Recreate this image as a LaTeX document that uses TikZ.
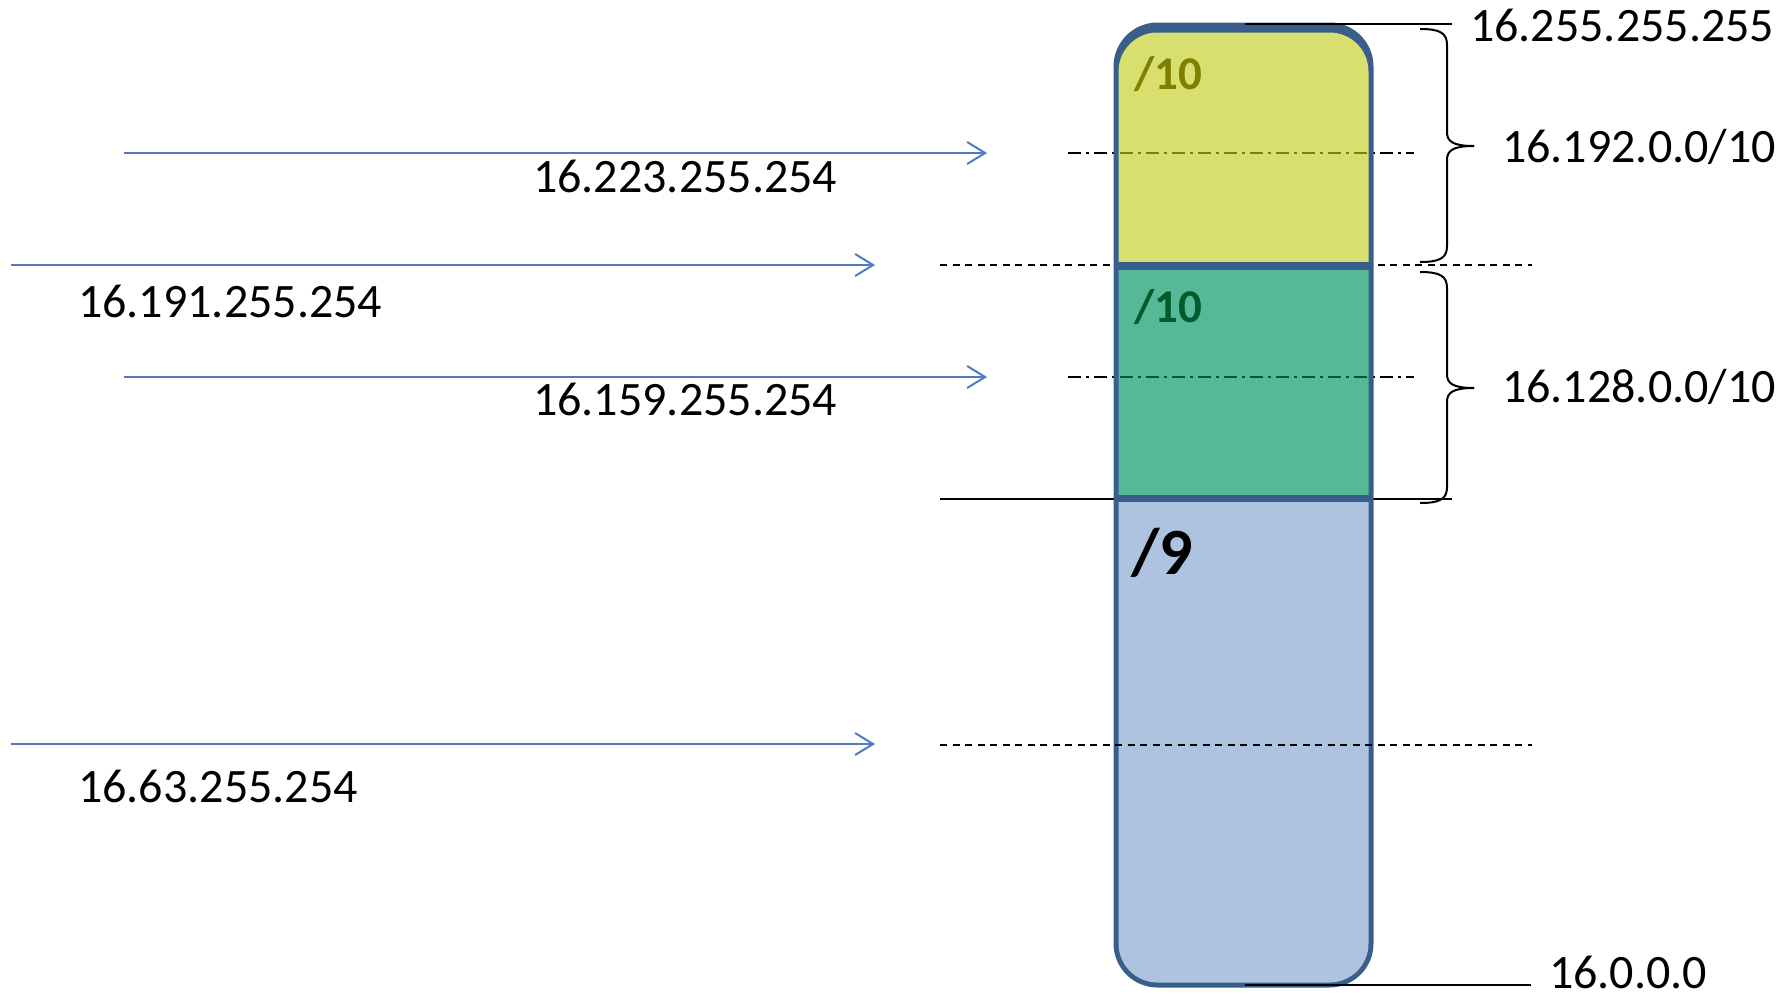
\documentclass[tikz,border=0pt]{standalone}
\usepackage{fontspec}
\setmainfont{Carlito}
\usetikzlibrary{arrows.meta}

\definecolor{barblue}{RGB}{58,94,140}
\definecolor{topfill}{RGB}{216,223,111}
\definecolor{midfill}{RGB}{85,185,151}
\definecolor{lowfill}{RGB}{173,195,223}
\definecolor{olivelabel}{RGB}{128,128,0}
\definecolor{greenlabel}{RGB}{0,90,43}
\definecolor{arrowblue}{RGB}{74,126,191}

\tikzset{
  addr/.style={anchor=base west, inner sep=0pt, font=\fontsize{48}{56}\selectfont},
  blocklabel/.style={anchor=base west, inner sep=0pt, font=\fontsize{47}{54}\selectfont\bfseries},
  route/.style={draw=arrowblue, line width=2pt,
    -{Straight Barb[length=18pt,width=22pt,line width=2pt]}},
  boundary/.style={line width=1.8pt, dash pattern=on 7pt off 5.5pt},
  midline/.style={line width=1.8pt, dash pattern=on 13pt off 5pt on 3pt off 5pt},
  bracket/.style={line width=2pt},
  marker/.style={line width=2.5pt},
}

\begin{document}
\begin{tikzpicture}[x=1pt,y=-1pt]
\useasboundingbox (0,0) rectangle (1787,993);

% --- route arrows ---
\coordinate (r1s) at (124,153);  \coordinate (r1e) at (987,153);
\coordinate (r2s) at (11,265);   \coordinate (r2e) at (875,265);
\coordinate (r3s) at (124,377);  \coordinate (r3e) at (987,377);
\coordinate (r4s) at (11,744);   \coordinate (r4e) at (875,744);
\draw[route] (r1s) -- (r1e);
\draw[route] (r2s) -- (r2e);
\draw[route] (r3s) -- (r3e);
\draw[route] (r4s) -- (r4e);

\node[addr] (l223) at (533,192) {16.223.255.254};
\node[addr] (l191) at (78,317)  {16.191.255.254};
\node[addr] (l159) at (533,415) {16.159.255.254};
\node[addr] (l63)  at (78,802)  {16.63.255.254};

% --- guide lines behind the block ---
\coordinate (d1s) at (940,265);  \coordinate (d1e) at (1532,265);
\coordinate (d2s) at (940,745);  \coordinate (d2e) at (1532,745);
\coordinate (m1s) at (1068,153); \coordinate (m1e) at (1414,153);
\coordinate (m2s) at (1068,377); \coordinate (m2e) at (1414,377);
\coordinate (c1s) at (940,499);  \coordinate (c1e) at (1452,499);
\draw[boundary] (d1s) -- (d1e);
\draw[midline] (m1s) -- (m1e);
\draw[midline] (m2s) -- (m2e);
\draw[line width=2pt] (c1s) -- (c1e);

% --- address block: blue frame, then the three fills inside it ---
\fill[barblue, rounded corners=44pt] (1113.5,22.5) rectangle (1373.5,987.5);
\begin{scope}
  \clip[rounded corners=39pt] (1118.5,32.5) rectangle (1368.5,982.5);
  \fill[topfill] (1100,20) rectangle (1390,262);
  \fill[midfill] (1100,270) rectangle (1390,495);
  \fill[lowfill] (1100,501.5) rectangle (1390,990);
  \draw[midline, olivelabel] (m1s) -- (m1e);
  \draw[midline, greenlabel] (m2s) -- (m2e);
\end{scope}
\draw[boundary] (d2s) -- (d2e);

\node[blocklabel, text=olivelabel] (b1) at (1134,89)  {/10};
\node[blocklabel, text=greenlabel] (b2) at (1134,322) {/10};
\node[anchor=base west, inner sep=0pt, font=\fontsize{66}{72}\selectfont\bfseries] (b3) at (1131,574) {/9};

% --- range ends ---
\coordinate (ts) at (1245,24);  \coordinate (te) at (1452,24);
\coordinate (bs) at (1245,985); \coordinate (be) at (1531,985);
\draw[marker] (ts) -- (te);
\draw[marker] (bs) -- (be);
\node[addr] (top) at (1470,41)  {16.255.255.255};
\node[addr] (bot) at (1549,988) {16.0.0.0};

% --- braces ---
\draw[bracket] (1420,29) .. controls (1440,29) and (1447,33) .. (1447,45) -- (1447,132)
  .. controls (1447,141) and (1452,146) .. (1474,146);
\draw[bracket] (1420,262) .. controls (1440,262) and (1447,258) .. (1447,246) -- (1447,160)
  .. controls (1447,151) and (1452,146) .. (1474,146);
\draw[bracket] (1420,272) .. controls (1440,272) and (1447,276) .. (1447,288) -- (1447,374)
  .. controls (1447,383) and (1452,388) .. (1474,388);
\draw[bracket] (1420,503) .. controls (1440,503) and (1447,499) .. (1447,487) -- (1447,402)
  .. controls (1447,393) and (1452,388) .. (1474,388);
\node[addr] (n192) at (1502,162) {16.192.0.0/10};
\node[addr] (n128) at (1502,402) {16.128.0.0/10};
\end{tikzpicture}
\end{document}
